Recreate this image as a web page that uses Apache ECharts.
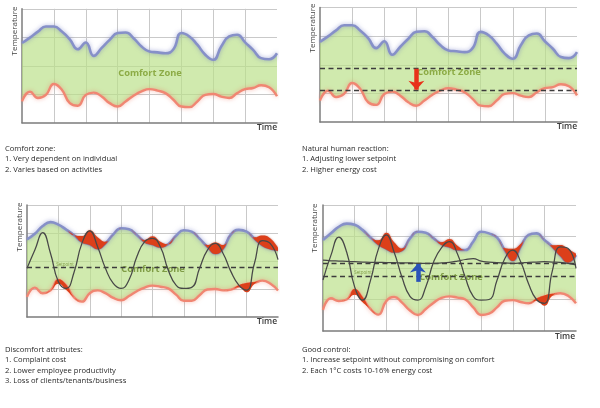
<!DOCTYPE html>
<html><head><meta charset="utf-8">
<script src="https://cdn.jsdelivr.net/npm/echarts@6/dist/echarts.min.js"></script>
<style>html,body{margin:0;padding:0;background:#fff}#c{width:600px;height:408px}</style>
</head><body><div id="c"></div>
<script>
// time samples shared by all curves
const TIME = ['0','0.25','0.5','0.75','1','1.25','1.5','1.75','2','2.25','2.5','2.75','3','3.25','3.5','3.75','4','4.25','4.5','4.75','5','5.25','5.5','5.75','6','6.25','6.5','6.75','7','7.25','7.5','7.75','8'];
// panels 1 & 2: comfort zone limits
const UPPER_A = [2.80,2.99,3.20,3.38,3.38,3.20,2.93,2.58,2.82,2.35,2.63,2.91,3.15,3.17,2.97,2.68,2.50,2.47,2.44,2.58,3.15,3.03,2.74,2.39,2.21,2.68,3.03,3.09,2.82,2.56,2.27,2.23,2.44];
const LOWER_A = [0.75,1.09,0.87,0.98,1.36,1.16,0.69,0.60,0.98,1.06,0.92,0.69,0.57,0.75,0.95,1.10,1.18,1.13,1.04,0.81,0.57,0.55,0.75,0.98,1.01,0.92,0.87,1.04,1.18,1.22,1.32,1.25,0.93];
// panel 3
const UPPER_C = [2.77,2.97,3.25,3.39,3.30,3.12,2.92,2.69,2.60,2.45,2.63,2.95,3.17,3.13,2.93,2.69,2.60,2.51,2.60,2.90,3.10,3.05,2.80,2.51,2.28,2.45,2.95,3.11,3.05,2.80,2.57,2.45,2.39];
const LOWER_C = [0.72,1.05,0.85,0.95,1.32,1.12,0.70,0.55,0.85,0.95,0.85,0.68,0.60,0.75,0.92,1.05,1.12,1.08,1.02,0.80,0.58,0.58,0.78,0.98,1.00,0.95,0.98,1.10,1.18,1.22,1.30,1.20,0.95];
const ROOM_C  = [1.74,2.39,3.01,2.27,1.26,1.02,1.60,2.63,3.08,2.51,1.74,1.20,1.02,1.32,2.15,2.69,2.81,2.51,1.68,1.14,1.02,1.06,1.74,2.39,2.63,2.27,1.62,1.14,0.96,1.92,2.73,2.63,2.05];
const HOT_C   = [0,0,0,0,0,0,0,0.20,0.50,0.40,0.06,0,0,0,0,0.06,0.28,0.18,0,0,0,0,0,0.06,0.38,0.12,0,0,0,0.04,0.34,0.36,0.08];
const COLD_C  = [0,0,0,0,0.13,0.16,0,0,0,0,0,0,0,0,0,0,0,0,0,0,0,0,0,0,0,0,0,0.04,0.30,0.04,0,0,0];
// panel 4
const UPPER_D = [2.89,3.10,3.31,3.41,3.37,3.21,2.97,2.76,2.62,2.52,2.57,2.94,3.15,3.12,2.94,2.76,2.68,2.59,2.57,2.84,3.15,3.10,2.97,2.57,2.25,2.68,3.05,3.10,2.89,2.68,2.41,2.20,2.41];
const LOWER_D = [0.67,1.04,0.95,1.00,1.30,1.05,0.70,0.52,0.95,1.08,0.90,0.65,0.51,0.70,0.90,1.05,1.10,1.06,1.00,0.75,0.51,0.55,0.75,0.96,0.98,0.92,0.88,1.00,1.10,1.15,1.20,1.12,0.88];
const ROOM_D  = [1.62,2.40,2.98,2.50,1.40,0.98,1.60,2.60,3.05,2.50,1.70,1.10,0.98,1.40,2.20,2.65,2.84,2.45,1.70,1.10,0.98,1.00,1.60,2.30,2.57,2.20,1.50,1.00,0.88,1.90,2.67,2.62,1.99];
const HOT_D   = [0,0,0,0,0,0,0,0.12,0.50,0.30,0.05,0,0,0,0,0.06,0.24,0.12,0,0,0,0,0,0.06,0.36,0.08,0,0,0,0.04,0.32,0.40,0.04];
const COLD_D  = [0,0,0,0,0.15,0.14,0,0,0,0,0,0,0,0,0,0,0,0,0,0,0,0,0,0,0,0,0,0.04,0.30,0.03,0,0,0];
const CONTROL_D = [2.25,2.23,2.22,2.21,2.20,2.19,2.18,2.18,2.17,2.17,2.16,2.16,2.15,2.15,2.15,2.16,2.18,2.22,2.27,2.30,2.22,2.19,2.17,2.16,2.15,2.16,2.18,2.19,2.20,2.19,2.18,2.15,2.10];
// setpoints and arrows (time category, from, to)
const SETPOINTS_B = [1.88, 1.11];
const SETPOINTS_C = [1.79];
const SETPOINTS_D = [2.16, 1.75];
const ARROW_B = ['3', 1.86, 1.13];
const ARROW_D = ['3', 1.56, 2.14];
// texts
const CAPTIONS = [
  ['Comfort zone:', '1. Very dependent on individual', '2. Varies based on activities'],
  ['Natural human reaction:', '1. Adjusting lower setpoint', '2. Higher energy cost'],
  ['Discomfort attributes:', '1. Complaint cost', '2. Lower employee productivity', '3. Loss of clients/tenants/business'],
  ['Good control:', '1. Increase setpoint without compromising on comfort', '2. Each 1°C costs 10-16% energy cost']
];
const Y_NAME = 'Temperature', X_NAME = 'Time', ZONE = 'Comfort Zone', SP = 'Setpoint';

const GREEN = 'rgb(186,224,136)', RED = '#dc3f1a', BLUE = '#8690c8', PINK = '#f08672';
const grids = [
  {left:22, top:8.8, width:255, height:114},
  {left:320, top:7.5, width:257, height:114.5},
  {left:27, top:205, width:251, height:112},
  {left:323, top:205, width:253, height:126}
];

function panelSeries(g, up, lo, room, hot, cold) {
  const base = {type:'line', xAxisIndex:g, yAxisIndex:g, smooth:0.5, symbol:'none', silent:true, animation:false};
  const hid = {width:0, opacity:0};
  const s = [];
  s.push({...base, stack:'band'+g, data:lo, lineStyle:hid, z:1});
  s.push({...base, stack:'band'+g, data:up.map((u,i)=>u-lo[i]), lineStyle:hid, areaStyle:{color:GREEN, opacity:0.68}, z:1});
  s.push({...base, data:up, lineStyle:{color:BLUE, width:2.6, shadowBlur:4, shadowColor:'rgba(100,110,190,0.55)'}, z:4});
  s.push({...base, data:lo, lineStyle:{color:PINK, width:2.4, shadowBlur:4, shadowColor:'rgba(240,120,100,0.55)'}, z:4});
  if (room) {
    s.push({...base, stack:'hi'+g, data:up.map((v,i)=>v-(hot[i]>0?0.03:0)), lineStyle:hid, z:5});
    s.push({...base, stack:'hi'+g, data:hot.map(v=>v>0?v+0.03:0), lineStyle:hid, areaStyle:{color:RED, opacity:1, shadowBlur:2, shadowColor:'rgba(150,30,10,0.5)'}, z:5});
    s.push({...base, stack:'lo'+g, data:lo.map((v,i)=>v-cold[i]), lineStyle:hid, z:5});
    s.push({...base, stack:'lo'+g, data:cold.map(v=>v>0?v+0.03:0), lineStyle:hid, areaStyle:{color:RED, opacity:1}, z:5});
    s.push({...base, data:room, lineStyle:{color:'#474747', width:1.25}, z:6});
  }
  return s;
}
function dashSeries(g, vals) {
  return {type:'line', xAxisIndex:g, yAxisIndex:g, data:[], silent:true, animation:false, z:7,
    markLine:{silent:true, symbol:'none', label:{show:false}, animation:false,
      lineStyle:{color:'#3c3c3c', type:[5,3.5], width:1.4},
      data: vals.map(v => ({yAxis:v}))}};
}
function arrowSeries(g, a, color) {
  return {type:'line', xAxisIndex:g, yAxisIndex:g, data:[], silent:true, animation:false, z:10,
    markLine:{silent:true, symbol:['none','arrow'], symbolSize:[12,9], label:{show:false}, animation:false,
      lineStyle:{color:color, type:'solid', width:4.5},
      data:[[{coord:[a[0], a[1]]},{coord:[a[0], a[2]]}]]}};
}

const series = [].concat(
  panelSeries(0, UPPER_A, LOWER_A),
  panelSeries(1, UPPER_A, LOWER_A),
  panelSeries(2, UPPER_C, LOWER_C, ROOM_C, HOT_C, COLD_C),
  panelSeries(3, UPPER_D, LOWER_D, ROOM_D, HOT_D, COLD_D),
  [dashSeries(1, SETPOINTS_B), dashSeries(2, SETPOINTS_C), dashSeries(3, SETPOINTS_D),
   {type:'line', xAxisIndex:3, yAxisIndex:3, smooth:0.5, symbol:'none', silent:true, animation:false, z:6,
    data:CONTROL_D, lineStyle:{color:'#474747', width:1.25}},
   arrowSeries(1, ARROW_B, '#e8321a'), arrowSeries(3, ARROW_D, '#2a52b8')]
);

const axisLine = {show:true, onZero:false, lineStyle:{color:'#7c7c7c', width:1.5}};
const xAxis = grids.map((_, g) => ({type:'category', data:TIME, boundaryGap:false, gridIndex:g,
  axisTick:{show:false}, axisLabel:{show:false}, axisLine,
  splitLine:{show:true, interval:3, showMinLine:false, showMaxLine:false, lineStyle:{color:'#c9c9c9', width:1}}}));
const yAxis = grids.map((_, g) => ({type:'value', gridIndex:g, min:0, max:4, interval:1,
  axisTick:{show:false}, axisLabel:{show:false}, axisLine,
  splitLine:{show:true, showMinLine:false, showMaxLine:true, lineStyle:{color:'#c9c9c9', width:1}}}));

const txt = (x, y, text, style, extra) => Object.assign({type:'text', x, y, z:3, silent:true,
  style:Object.assign({text, fontFamily:'Open Sans', fill:'#333', align:'center', verticalAlign:'middle'}, style)}, extra || {});
const graphic = [];
[[15,31],[313,28],[20,227],[315,228]].forEach(p => graphic.push(txt(p[0], p[1], Y_NAME, {fontSize:8, fill:'#444'}, {rotation:Math.PI/2})));
[[267,128],[567,127],[267,322],[565,337]].forEach(p => graphic.push(txt(p[0], p[1], X_NAME, {fontSize:8.5, fontWeight:600, fill:'#3a3a3a'})));
[[150,73,'#8cab45'],[449,72,'#8cab45'],[153,269,'#7f9c45'],[451,277,'#7f9c45']].forEach(p => graphic.push(txt(p[0], p[1], ZONE, {fontSize:9.3, fontWeight:'bold', fill:p[2]})));
[[65,265],[363,273]].forEach(p => graphic.push(txt(p[0], p[1], SP, {fontSize:4.5, fill:'#7f9c45'})));
const capPos = [[5,148.5],[302,148.5],[5,349.5],[302,349.5]];
CAPTIONS.forEach((lines, k) => lines.forEach((l, j) =>
  graphic.push(txt(capPos[k][0], capPos[k][1] + j*10.6, l, {fontSize:7.6, fill:'#2a2a2a', align:'left'}))));

const chart = echarts.init(document.getElementById('c'), null, {renderer:'canvas'});
chart.setOption({animation:false, backgroundColor:'#fff', grid:grids, xAxis, yAxis, series, graphic});
</script></body></html>
